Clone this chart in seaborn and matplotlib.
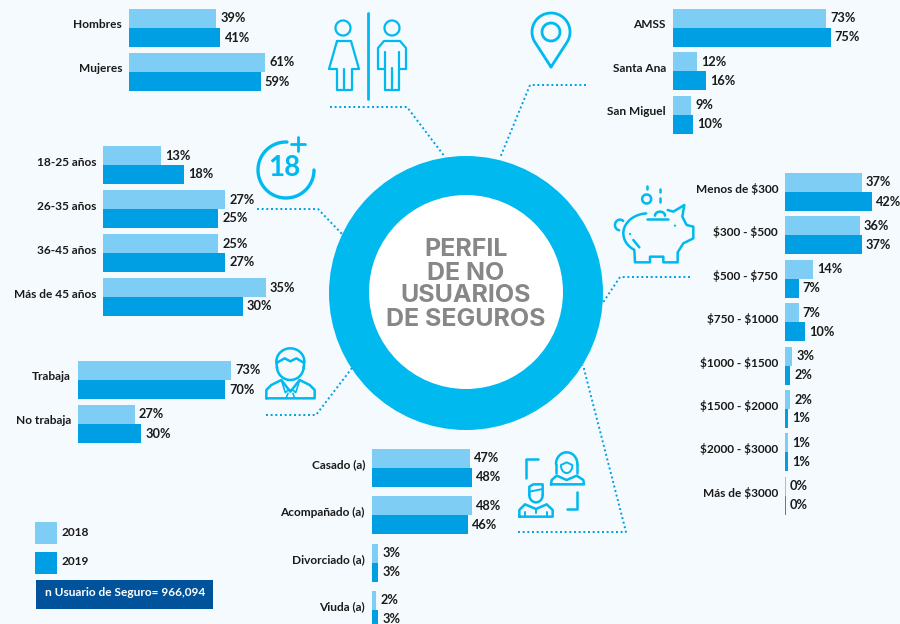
import numpy as np
import pandas as pd
import matplotlib
matplotlib.use("Agg")
import matplotlib.pyplot as plt
import seaborn as sns
from matplotlib.patches import Circle, Rectangle, Arc
from matplotlib.transforms import ScaledTranslation

# values as printed; decimals only where the drawn bar is visibly off the rounded label
years = ["2018", "2019"]

gender_cats = ["Hombres", "Mujeres"]
gender_2018 = [39, 61]
gender_2019 = [41, 59]

age_cats = ["18-25 años", "26-35 años", "36-45 años", "Más de 45 años"]
age_2018 = [12.6, 26.6, 25, 35.4]
age_2019 = [17.6, 25, 26.6, 30.4]

place_cats = ["AMSS", "Santa Ana", "San Miguel"]
place_2018 = [73, 11.6, 8.6]
place_2019 = [75, 15.6, 9.6]

income_cats = ["Menos de \\$300", "\\$300 - \\$500", "\\$500 - \\$750", "\\$750 - \\$1000",
               "\\$1000 - \\$1500", "\\$1500 - \\$2000", "\\$2000 - \\$3000", "Más de \\$3000"]
income_2018 = [37, 36, 13.6, 6.6, 3.4, 2.4, 1.4, 0.4]
income_2019 = [42, 37, 6.6, 9.6, 2.4, 1.4, 1.4, 0.4]

work_cats = ["Trabaja", "No trabaja"]
work_2018 = [73, 27]
work_2019 = [70, 30]

civil_cats = ["Casado (a)", "Acompañado (a)", "Divorciado (a)", "Viuda (a)"]
civil_2018 = [47, 48, 3, 2]
civil_2019 = [48, 46, 3, 3]

sns.set_theme(style="white")
plt.rcParams["font.family"] = ["Lato", "DejaVu Sans"]

BG = "#F4FAFE"
LIGHT = "#7DCDF5"
DARK = "#009FE3"
RING = "#00B9EE"
NAVY = "#00539B"
INK = "#1A1A1A"
W, H = 900, 624
FS = 8.6
VALUE_FS = 9.2

fig = plt.figure(figsize=(W / 100, H / 100), dpi=100, facecolor=BG)
bg = fig.add_axes([0, 0, 1, 1])
bg.set_xlim(0, W)
bg.set_ylim(H, 0)
bg.axis("off")


def panel(cats, v18, v19, x0, top, pitch, scale, width=190):
    df = pd.DataFrame({
        "cat": cats * 2,
        "pct": v18 + v19,
        "year": [years[0]] * len(cats) + [years[1]] * len(cats),
    })
    h = pitch * len(cats)
    ax = fig.add_axes([x0 / W, 1 - (top + h) / H, width / W, h / H])
    sns.barplot(data=df, y="cat", x="pct", hue="year", palette=[LIGHT, DARK],
                orient="h", width=38 / pitch, saturation=1, linewidth=0,
                legend=False, ax=ax)
    ax.set_xlim(0, width / scale)
    ax.set_ylim(len(cats) - 0.5, -0.5)
    ax.patch.set_visible(False)
    sns.despine(ax=ax, left=True, bottom=True)
    ax.set_xticks([])
    ax.set_xlabel("")
    ax.set_ylabel("")
    ax.tick_params(axis="y", length=0, pad=5)
    shift = ScaledTranslation(0, 4 / 100, fig.dpi_scale_trans)
    for t in ax.get_yticklabels():
        t.set_fontsize(FS)
        t.set_fontweight("bold")
        t.set_color(INK)
        t.set_transform(t.get_transform() + shift)
    for c in ax.containers:
        ax.bar_label(c, labels=[f"{round(b.get_width())}%" for b in c],
                     padding=3, fontsize=VALUE_FS, fontweight="bold", color=INK)
    return ax


panel(gender_cats, gender_2018, gender_2019, 129, 6, 44, 2.23)
panel(age_cats, age_2018, age_2019, 103, 143, 44, 4.6)
panel(place_cats, place_2018, place_2019, 673, 6, 43.5, 2.1)
panel(income_cats, income_2018, income_2019, 785, 170.3, 43.4, 2.07, width=110)
panel(work_cats, work_2018, work_2019, 78, 358, 44, 2.1)
panel(civil_cats, civil_2018, civil_2019, 372, 444, 47.4, 2.08)

# centre ring
bg.add_patch(Circle((466, 293), 137, fc=RING, ec="none"))
bg.add_patch(Circle((466, 292), 97, fc="white", ec="none"))
for y, s in zip([249, 273, 296, 319], ["PERFIL", "DE NO", "USUARIOS", "DE SEGUROS"]):
    bg.text(466, y, s, ha="center", va="center", fontsize=18, fontweight="bold",
            color="#878787", family=["Inter", "DejaVu Sans"])

# dotted leaders
leaders = [
    ([330, 407, 445], [107, 107, 157]),
    ([586, 530, 500], [85, 85, 158]),
    ([257, 318, 342], [209, 209, 234]),
    ([690, 620, 602], [277, 277, 304]),
    ([266, 316, 352], [415, 415, 368]),
    ([518, 626, 583], [532, 532, 365]),
]
for xs, ys in leaders:
    bg.plot(xs, ys, color=DARK, lw=1.4, ls=(0, (1, 1.4)))


def stroke(xs, ys, lw=1.6, color=RING):
    bg.plot(xs, ys, color=color, lw=lw, solid_capstyle="round", solid_joinstyle="round")


def ring(x, y, r, lw=1.6):
    bg.add_patch(Arc((x, y), 2 * r, 2 * r, color=RING, lw=lw))


def arc(x, y, rx, ry, a0, a1, lw=1.6):
    t = np.radians(np.linspace(a0, a1, 60))
    stroke(x + rx * np.cos(t), y - ry * np.sin(t), lw=lw)


def crop_path(x0, y0, pts, lw=1.8):
    # icon outlines were traced on 3x crops of the picture
    p = np.array(pts, dtype=float)
    stroke(x0 + p[:, 0] / 3, y0 + p[:, 1] / 3, lw=lw)


def crop_arc(x0, y0, cx, cy, rx, ry, a0, a1, lw=1.8):
    arc(x0 + cx / 3, y0 + cy / 3, rx / 3, ry / 3, a0, a1, lw=lw)


# gender icon
stroke([368, 368], [13, 99], lw=2)
ring(343, 28, 7.5)
stroke([337, 351, 359, 352, 352, 337, 337, 329, 337], [41, 41, 69, 69, 90, 90, 69, 69, 41])
stroke([344, 344], [69, 90])
ring(392, 28, 7.5)
stroke([385, 378, 378, 384, 400, 406, 406, 399], [69, 69, 48, 41, 41, 48, 69, 69])
stroke([385, 385, 399, 399], [52, 90, 90, 52])
stroke([392, 392], [68, 90])

# pin icon
t = np.radians(np.linspace(-32, 212, 80))
stroke(np.r_[551, 551 + 19 * np.cos(t), 551], np.r_[67, 32 - 19 * np.sin(t), 67], lw=2)
ring(551, 32, 9, lw=2)

# 18+ icon
arc(286, 170, 28, 28, 0, -272, lw=2.4)
bg.text(284, 168, "18", ha="center", va="center", fontsize=20, fontweight="bold",
        color=RING)
stroke([298, 298], [137, 151], lw=2)
stroke([291, 305], [144, 144], lw=2)

# piggy icon
PX, PY = 605, 175
crop_arc(PX, PY, 130, 175, 75, 60, 95, 235)
crop_path(PX, PY, [(88, 225), (90, 262), (135, 262), (135, 245), (175, 245), (175, 262),
                   (218, 262), (218, 232), (235, 205), (265, 190), (265, 155), (245, 150),
                   (232, 125), (238, 90), (205, 110), (188, 105)])
crop_arc(PX, PY, 45, 150, 15, 16, 50, 260)
ring(PX + 125 / 3, PY + 72 / 3, 4.5, lw=1.8)
crop_path(PX, PY, [(127, 33), (127, 42)])
crop_path(PX, PY, [(165, 43), (165, 50)])
crop_path(PX, PY, [(165, 68), (165, 82)])
crop_path(PX, PY, [(125, 133), (190, 133)])
crop_arc(PX, PY, 165, 122, 15, 12, 0, 180)
crop_path(PX, PY, [(85, 195), (103, 217)])
bg.add_patch(Circle((PX + 75 / 3, PY + 177 / 3), 1.1, fc=RING, ec="none"))
bg.add_patch(Circle((PX + 210 / 3, PY + 152 / 3), 1.1, fc=RING, ec="none"))

# worker icon
WX, WY = 258, 340
crop_arc(WX, WY, 97, 65, 42, 40, 0, 180)
crop_path(WX, WY, [(55, 65), (57, 85)])
crop_path(WX, WY, [(139, 65), (137, 85)])
crop_arc(WX, WY, 97, 80, 40, 40, 180, 360)
crop_path(WX, WY, [(57, 68), (80, 55), (97, 64), (115, 55), (137, 68)])
crop_path(WX, WY, [(25, 175), (25, 150), (40, 135), (70, 120), (97, 155), (125, 120), (155, 135),
                   (170, 150), (170, 175), (25, 175)])
crop_path(WX, WY, [(70, 120), (82, 158), (90, 150), (105, 150), (113, 158), (125, 120)], lw=1.2)
crop_path(WX, WY, [(90, 160), (84, 175)], lw=1.2)
crop_path(WX, WY, [(105, 160), (110, 175)], lw=1.2)

# couple icon
CX, CY = 510, 445
crop_path(CX, CY, [(48, 100), (48, 43), (83, 43)])
crop_path(CX, CY, [(98, 43), (99, 43)])
crop_path(CX, CY, [(200, 142), (200, 193), (172, 193)])
crop_path(CX, CY, [(158, 193), (159, 193)])
crop_arc(CX, CY, 170, 57, 32, 35, 0, 180)
crop_path(CX, CY, [(138, 57), (138, 85)])
crop_path(CX, CY, [(202, 57), (202, 85)])
crop_path(CX, CY, [(153, 60), (170, 52), (187, 60)], lw=1.4)
crop_arc(CX, CY, 170, 62, 17, 22, 180, 360, lw=1.4)
crop_path(CX, CY, [(123, 118), (125, 105), (140, 92), (170, 105), (200, 92), (220, 105),
                   (222, 118), (123, 118)])
crop_path(CX, CY, [(58, 150), (58, 125), (70, 118), (98, 118), (98, 150)])
crop_path(CX, CY, [(58, 140), (98, 132)], lw=1.4)
crop_arc(CX, CY, 78, 150, 20, 22, 180, 360)
crop_path(CX, CY, [(28, 215), (28, 195), (45, 178), (78, 192), (110, 178), (128, 195),
                   (128, 215), (28, 215)])
crop_path(CX, CY, [(45, 200), (45, 215)], lw=1.4)
crop_path(CX, CY, [(110, 200), (110, 215)], lw=1.4)
crop_path(CX, CY, [(78, 192), (78, 205)], lw=1.4)

# legend
bg.add_patch(Rectangle((35, 522), 22, 22, fc=LIGHT, ec="none"))
bg.add_patch(Rectangle((35, 552), 22, 22, fc=DARK, ec="none"))
bg.text(61, 532.5, years[0], va="center", fontsize=FS, fontweight="bold", color=INK)
bg.text(61, 561.5, years[1], va="center", fontsize=FS, fontweight="bold", color=INK)
bg.add_patch(Rectangle((36, 580), 177, 29, fc=NAVY, ec="none"))
bg.text(45, 593, "n Usuario de Seguro= 966,094", va="center", fontsize=8.6,
        fontweight="bold", color="white")

fig.savefig("out.png", dpi=100, facecolor=BG)
